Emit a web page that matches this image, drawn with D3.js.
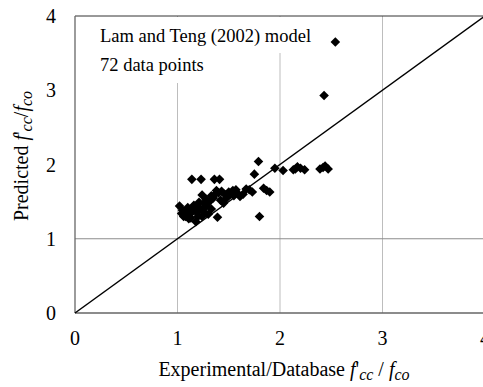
<!DOCTYPE html>
<html>
<head>
<meta charset="utf-8">
<script src="https://cdn.jsdelivr.net/npm/d3@7"></script>
<style>
  body { margin: 0; background: #fff; }
  svg text { font-family: "Liberation Serif", "DejaVu Serif", serif; }
</style>
</head>
<body>
<svg id="chart" width="483" height="387"></svg>
<script>
// experimental / database ratio f'cc/fco
var experimental = [2.54, 2.43, 1.79, 1.75, 1.95, 2.03, 2.13, 2.17, 2.20, 2.24,
  2.15, 2.39, 2.44, 2.47, 2.42, 1.14, 1.23, 1.36, 1.41, 1.80,
  1.39, 1.18, 1.84, 1.90, 1.87, 1.67, 1.73, 1.70, 1.54, 1.61,
  1.58, 1.52, 1.57, 1.43, 1.45, 1.40, 1.36, 1.28, 1.24, 1.02,
  1.06, 1.05, 1.09, 1.12, 1.15, 1.19, 1.22, 1.20, 1.25, 1.28,
  1.31, 1.33, 1.35, 1.10, 1.08, 1.13, 1.16, 1.30, 1.26, 1.48,
  1.50, 1.64, 1.38, 1.33, 1.42, 1.18, 1.04, 1.24, 1.46, 1.21,
  1.11, 1.55];
// predicted by Lam and Teng (2002)
var predicted = [3.65, 2.93, 2.04, 1.87, 1.95, 1.92, 1.93, 1.97, 1.95, 1.93,
  1.94, 1.94, 1.98, 1.94, 1.96, 1.80, 1.80, 1.80, 1.80, 1.30,
  1.29, 1.23, 1.68, 1.63, 1.65, 1.67, 1.63, 1.66, 1.65, 1.57,
  1.62, 1.60, 1.66, 1.64, 1.48, 1.62, 1.59, 1.53, 1.59, 1.44,
  1.30, 1.38, 1.36, 1.33, 1.39, 1.35, 1.41, 1.30, 1.37, 1.44,
  1.50, 1.40, 1.55, 1.42, 1.30, 1.28, 1.45, 1.33, 1.48, 1.55,
  1.63, 1.60, 1.65, 1.58, 1.52, 1.40, 1.34, 1.30, 1.60, 1.49,
  1.27, 1.58];
var tickValues = [0, 1, 2, 3, 4];
var notes = ["Lam and Teng (2002) model", "72 data points"];

var svg = d3.select("#chart");
var x = d3.scaleLinear().domain([0, 4]).range([75, 485]);
var y = d3.scaleLinear().domain([0, 4]).range([313, 16]);

var data = experimental.map(function(d, i) { return { x: d, y: predicted[i] }; });

// gridlines
svg.selectAll(".vgrid").data([1, 2, 3]).enter().append("line")
  .attr("x1", function(d) { return x(d); }).attr("x2", function(d) { return x(d); })
  .attr("y1", y(0)).attr("y2", y(4))
  .attr("stroke", "#bdbdbd").attr("stroke-width", 1);
svg.append("line")
  .attr("x1", x(0)).attr("x2", x(4)).attr("y1", y(1)).attr("y2", y(1))
  .attr("stroke", "#8c8c8c").attr("stroke-width", 1);

// white boxes behind the notes
svg.append("rect").attr("x", 95).attr("y", y(4) + 1).attr("width", 225).attr("height", 36).attr("fill", "#fff");
svg.append("rect").attr("x", 95).attr("y", y(4) + 36).attr("width", 115).attr("height", 31).attr("fill", "#fff");

// frame
svg.append("line").attr("x1", x(0)).attr("x2", x(4)).attr("y1", y(4)).attr("y2", y(4))
  .attr("stroke", "#333").attr("stroke-width", 1);
svg.append("line").attr("x1", x(0)).attr("x2", x(0)).attr("y1", y(0)).attr("y2", y(4))
  .attr("stroke", "#666").attr("stroke-width", 1.3);
svg.append("line").attr("x1", x(0)).attr("x2", x(4)).attr("y1", y(0)).attr("y2", y(0))
  .attr("stroke", "#666").attr("stroke-width", 1.3);

// line of equality
svg.append("line")
  .attr("x1", x(0)).attr("y1", y(0)).attr("x2", x(4)).attr("y2", y(4))
  .attr("stroke", "#000").attr("stroke-width", 1.5);

// points
var diamond = d3.symbol().type(d3.symbolSquare).size(46);
svg.selectAll(".pt").data(data).enter().append("path")
  .attr("d", diamond)
  .attr("transform", function(d) { return "translate(" + x(d.x) + "," + y(d.y) + ") rotate(45)"; })
  .attr("fill", "#000");

// tick labels
svg.selectAll(".xt").data(tickValues).enter().append("text")
  .attr("x", function(d) { return x(d); }).attr("y", 345)
  .attr("text-anchor", "middle").attr("font-size", 20)
  .text(function(d) { return d; });
svg.selectAll(".yt").data(tickValues).enter().append("text")
  .attr("x", 56).attr("y", function(d) { return y(d) + 7; })
  .attr("text-anchor", "end").attr("font-size", 20)
  .text(function(d) { return d; });

// notes
svg.selectAll(".note").data(notes).enter().append("text")
  .attr("x", 100).attr("y", function(d, i) { return 42 + i * 29; })
  .attr("font-size", 18.5)
  .text(function(d) { return d; });

// axis titles
function ratio(t, sep) {
  t.append("tspan").attr("font-style", "italic").text("f");
  t.append("tspan").text("'");
  t.append("tspan").attr("font-style", "italic").attr("font-size", 16).attr("dy", 4).text("cc");
  t.append("tspan").attr("dy", -4).text(sep);
  t.append("tspan").attr("font-style", "italic").text("f");
  t.append("tspan").attr("font-style", "italic").attr("font-size", 16).attr("dy", 4).text("co");
}
var xt = svg.append("text").attr("x", 284).attr("y", 376)
  .attr("text-anchor", "middle").attr("font-size", 20);
xt.append("tspan").text("Experimental/Database ");
ratio(xt, " / ");

var yt = svg.append("text").attr("transform", "translate(28,156) rotate(-90)")
  .attr("text-anchor", "middle").attr("font-size", 20);
yt.append("tspan").text("Predicted ");
ratio(yt, "/");
</script>
</body>
</html>
